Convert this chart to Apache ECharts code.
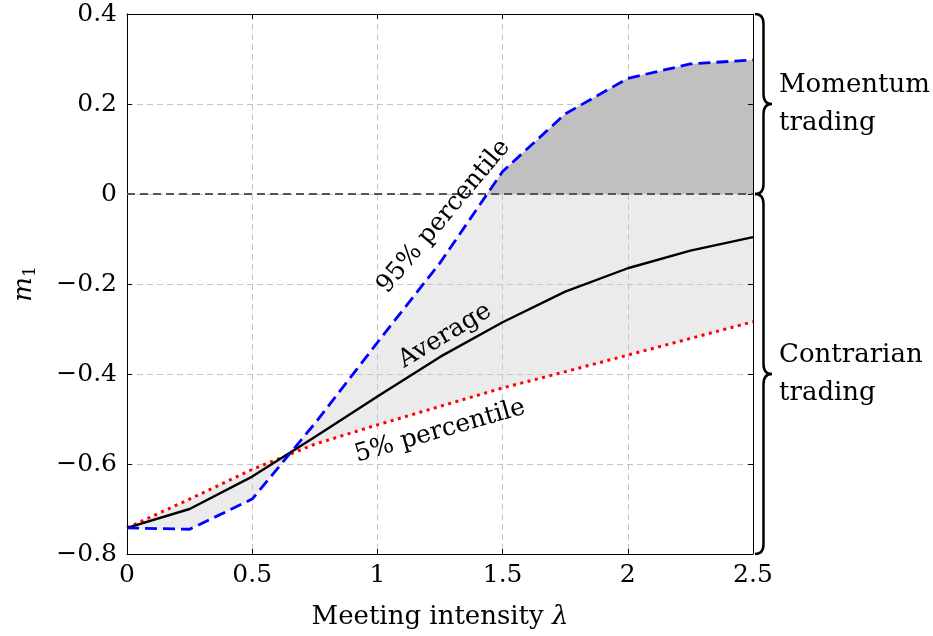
<!DOCTYPE html>
<html><head><meta charset="utf-8">
<script src="https://cdn.jsdelivr.net/npm/echarts@6/dist/echarts.min.js"></script>
<style>html,body{margin:0;padding:0;background:#fff}#c{width:933px;height:636px}</style>
</head><body><div id="c"></div>
<script>
const xValues = [0, 0.25, 0.5, 0.75, 1, 1.25, 1.5, 1.75, 2, 2.25, 2.5];
const p95 = [-0.742, -0.745, -0.678, -0.51, -0.33, -0.153, 0.05, 0.178, 0.257, 0.289, 0.298];
const avg = [-0.742, -0.700, -0.628, -0.540, -0.450, -0.362, -0.285, -0.217, -0.165, -0.126, -0.096];
const p5  = [-0.742, -0.678, -0.612, -0.556, -0.513, -0.472, -0.431, -0.395, -0.358, -0.321, -0.284];
const zeroLineX = [0, 2.5];
const xTickLabels = ['0', '0.5', '1', '1.5', '2', '2.5'];
const yTickLabels = ['\u22120.8', '\u22120.6', '\u22120.4', '\u22120.2', '0', '0.2', '0.4'];
const braceBounds = [[0.4, 0], [0, -0.8]];
const braceTexts = ['Momentum\ntrading', 'Contrarian\ntrading'];
const curveLabels = ['95% percentile', 'Average', '5% percentile'];
const curveLabelAnchors = [[1.265, -0.05], [1.27, -0.315], [1.25, -0.527]];
const curveLabelAngles = [50, 31, 16];

const FONT = 'DejaVu Serif';
const pairs = a => xValues.map((x, i) => [x, a[i]]);

function darkPoints() {
  const pts = [];
  for (let i = 0; i < xValues.length; i++) {
    if (i > 0) {
      const y0 = p95[i - 1], y1 = p95[i];
      if ((y0 < 0 && y1 > 0) || (y0 > 0 && y1 < 0)) {
        const t = -y0 / (y1 - y0);
        pts.push([xValues[i - 1] + t * (xValues[i] - xValues[i - 1]), 0]);
      }
    }
    if (p95[i] >= 0) pts.push([xValues[i], p95[i]]);
  }
  const first = pts[0][0], last = pts[pts.length - 1][0];
  pts.push([last, 0]);
  pts.push([first, 0]);
  return pts;
}

const chart = echarts.init(document.getElementById('c'), null, {renderer: 'canvas'});
const axisCommon = {
  axisLine: {show: true, onZero: false, lineStyle: {color: '#000', width: 1}},
  axisTick: {show: true, inside: true, length: 5, lineStyle: {color: '#000'}},
  splitLine: {show: false}
};
chart.setOption({
  animation: false,
  grid: {left: 127, right: 180, top: 14, bottom: 82},
  xAxis: [
    Object.assign({}, axisCommon, {
      type: 'value', min: 0, max: 2.5, interval: 0.5, z: 3,
      name: '{r|Meeting intensity }{i|\u03bb}', nameLocation: 'middle', nameGap: 50,
      nameTextStyle: {rich: {r: {fontFamily: FONT, fontSize: 26, color: '#000'}, i: {fontFamily: FONT, fontSize: 26, fontStyle: 'italic', color: '#000'}}},
      axisLabel: {margin: 9, fontFamily: FONT, fontSize: 25, color: '#000',
        formatter: v => xTickLabels[Math.round(v / 0.5)]},
      splitLine: {show: true, lineStyle: {color: '#c4c4c4', type: [6, 4], width: 1}}
    }),
    Object.assign({}, axisCommon, {
      type: 'value', min: 0, max: 2.5, interval: 0.5, position: 'top', z: 3,
      axisLabel: {show: false}
    })
  ],
  yAxis: [
    Object.assign({}, axisCommon, {
      type: 'value', min: -0.8, max: 0.4, interval: 0.2, z: 3,
      name: '{i|m}{s|1}', nameLocation: 'middle', nameGap: 88, nameRotate: 90,
      nameTextStyle: {rich: {i: {fontFamily: FONT, fontSize: 26, fontStyle: 'italic', color: '#000'}, s: {fontFamily: FONT, fontSize: 17, color: '#000', verticalAlign: 'bottom', padding: [12, 0, 0, 0]}}},
      axisLabel: {margin: 10, fontFamily: FONT, fontSize: 25, color: '#000',
        formatter: v => yTickLabels[Math.round((v + 0.8) / 0.2)]},
      splitLine: {show: true, lineStyle: {color: '#c4c4c4', type: [6, 4], width: 1}}
    }),
    Object.assign({}, axisCommon, {
      type: 'value', min: -0.8, max: 0.4, interval: 0.2, position: 'right', z: 3,
      axisLabel: {show: false}
    })
  ],
  series: [
    {
      type: 'custom', z: 1, data: [0], silent: true,
      renderItem: (params, api) => {
        const pts = pairs(p95).concat(pairs(p5).reverse()).map(p => api.coord(p));
        return {type: 'polygon', shape: {points: pts}, style: {fill: '#ebebeb', stroke: null}};
      }
    },
    {
      type: 'custom', z: 1, data: [0], silent: true,
      renderItem: (params, api) => {
        const pts = darkPoints().map(p => api.coord(p));
        return {type: 'polygon', shape: {points: pts}, style: {fill: '#c0c0c0', stroke: null}};
      }
    },
    {
      type: 'line', z: 5, symbol: 'none', silent: true,
      data: zeroLineX.map(x => [x, 0]),
      lineStyle: {color: '#555', width: 2.2, type: [8, 5]}
    },
    {
      type: 'line', z: 5, symbol: 'none', silent: true, data: pairs(p5),
      lineStyle: {color: '#ff0000', width: 3, type: [3, 4.5]}
    },
    {
      type: 'line', z: 6, symbol: 'none', silent: true, data: pairs(avg),
      lineStyle: {color: '#000', width: 2.4}
    },
    {
      type: 'line', z: 7, symbol: 'none', silent: true, data: pairs(p95),
      lineStyle: {color: '#0000ff', width: 2.8, type: [12, 6]}
    },
    {
      type: 'custom', z: 8, data: [0], silent: true, clip: false,
      renderItem: (params, api) => {
        const children = [];
        braceBounds.forEach((b, k) => {
          const top = api.coord([2.5, b[0]]), bot = api.coord([2.5, b[1]]);
          const x0 = top[0] + 2, w = 17, h = w / 2, r = 10;
          const y1 = top[1], y2 = bot[1], ym = (y1 + y2) / 2;
          const d = `M${x0} ${y1} Q${x0 + h} ${y1} ${x0 + h} ${y1 + r} L${x0 + h} ${ym - r} Q${x0 + h} ${ym} ${x0 + w} ${ym} Q${x0 + h} ${ym} ${x0 + h} ${ym + r} L${x0 + h} ${y2 - r} Q${x0 + h} ${y2} ${x0} ${y2}`;
          children.push({type: 'path', shape: {pathData: d}, style: {stroke: '#000', fill: null, lineWidth: 2.5}});
          children.push({type: 'text', x: x0 + w + 7, y: ym,
            style: {text: braceTexts[k], fontFamily: FONT, fontSize: 26, fill: '#000', verticalAlign: 'middle', align: 'left', lineHeight: 38}});
        });
        return {type: 'group', children};
      }
    },
    {
      type: 'custom', z: 9, data: [0], silent: true, clip: false,
      renderItem: (params, api) => {
        return {type: 'group', children: curveLabels.map((t, k) => {
          const c = api.coord(curveLabelAnchors[k]);
          return {type: 'text', x: c[0], y: c[1], rotation: curveLabelAngles[k] * Math.PI / 180,
            style: {text: t, fontFamily: FONT, fontSize: 25, fill: '#000', align: 'center', verticalAlign: 'middle'}};
        })};
      }
    }
  ]
});
</script>
</body></html>
